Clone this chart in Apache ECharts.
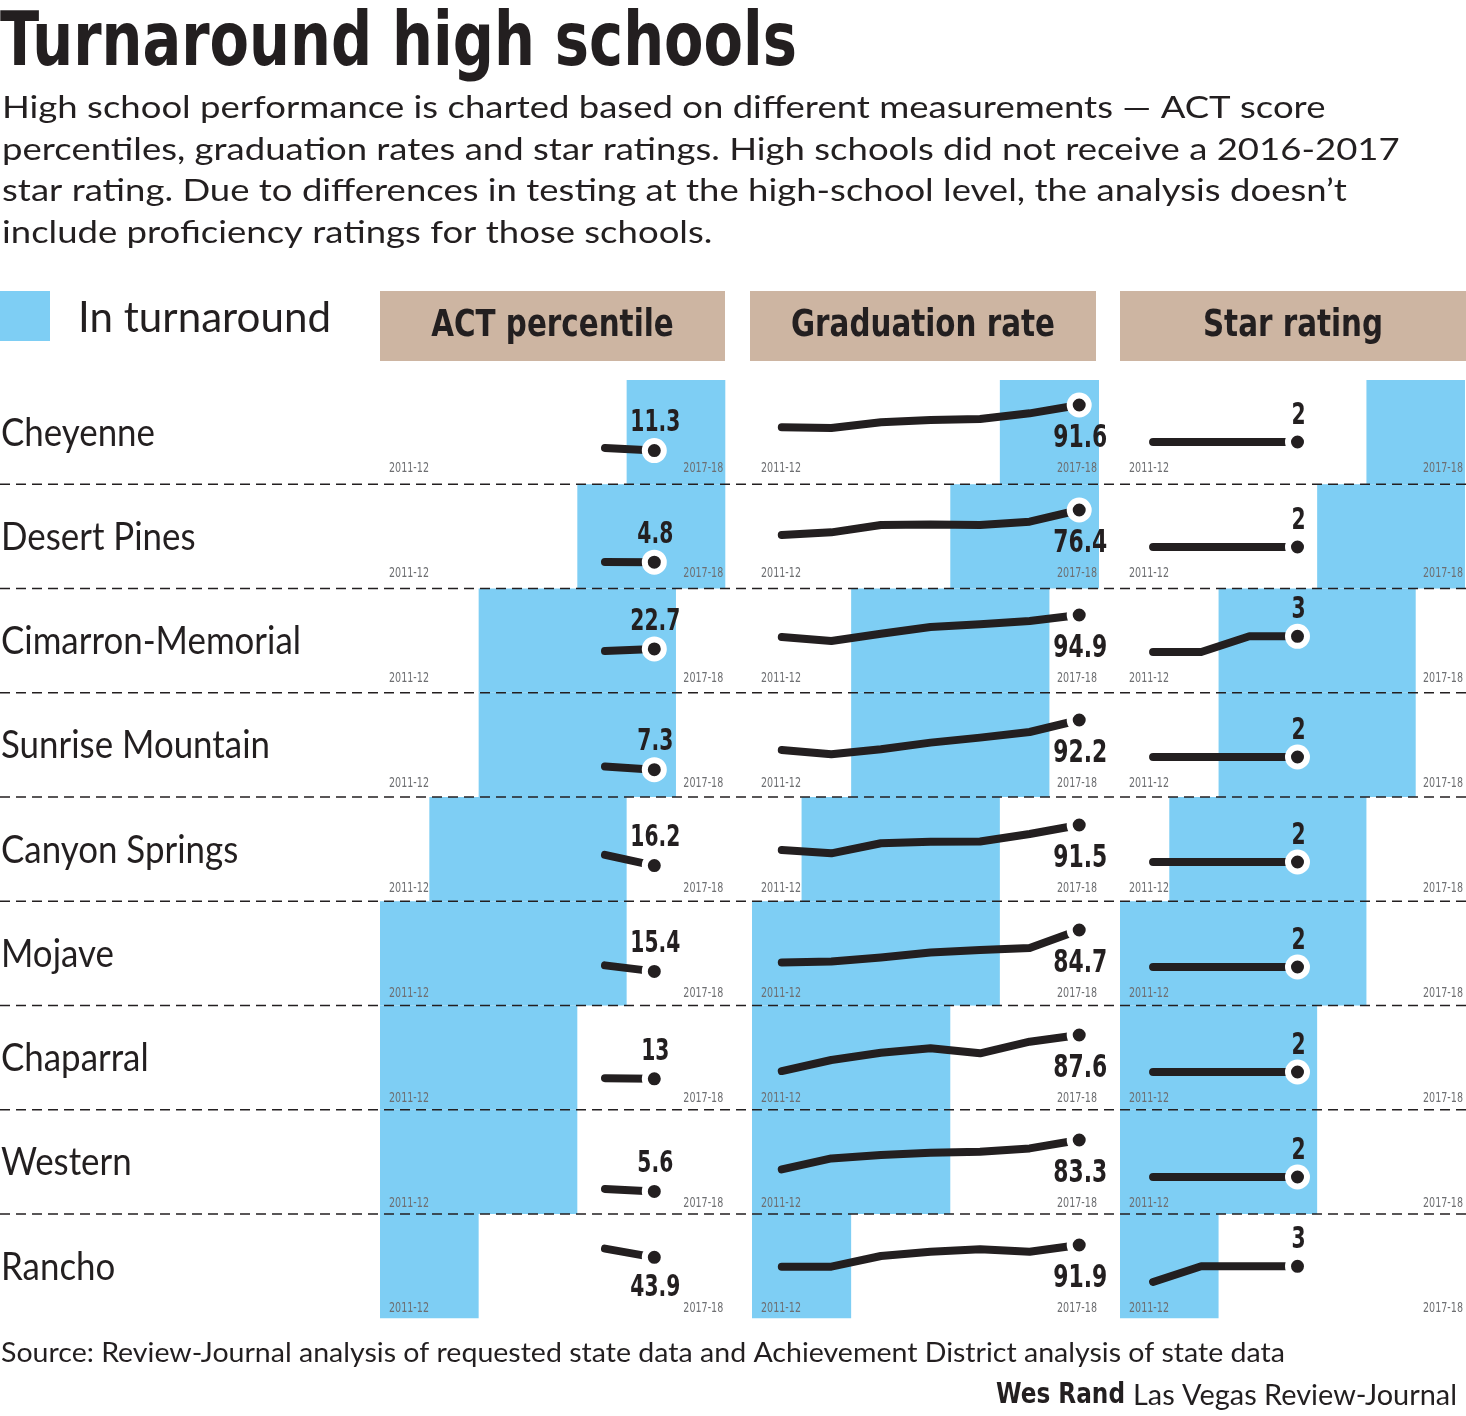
<!DOCTYPE html>
<html>
<head>
<meta charset="utf-8">
<script src="https://cdn.jsdelivr.net/npm/echarts@6/dist/echarts.min.js"></script>
<style>
html,body{margin:0;padding:0;background:#fff;}
#chart{width:1466px;height:1416px;}
</style>
</head>
<body>
<div id="chart"></div>
<script>
// ---------------- DATA ----------------
const schools = ['Cheyenne', 'Desert Pines', 'Cimarron-Memorial', 'Sunrise Mountain',
  'Canyon Springs', 'Mojave', 'Chaparral', 'Western', 'Rancho'];
const years = ['2011-12', '2012-13', '2013-14', '2014-15', '2015-16', '2016-17', '2017-18'];
const columns = ['ACT percentile', 'Graduation rate', 'Star rating'];

// Years each school spent in turnaround (first, last)
const turnaroundFrom = ['2016-17', '2015-16', '2013-14', '2013-14', '2012-13', '2011-12', '2011-12', '2011-12', '2011-12'];
const turnaroundTo   = ['2017-18', '2017-18', '2016-17', '2016-17', '2015-16', '2015-16', '2014-15', '2014-15', '2012-13'];

// ACT percentile (two years shown)
const actYears  = ['2015-16', '2016-17'];
const actPrev   = [13.8, 4.9, 20.7, 10.5, 26.7, 21.3, 13.7, 7.9, 52.4];
const actLatest = [11.3, 4.8, 22.7, 7.3, 16.2, 15.4, 13, 5.6, 43.9];

// Graduation rate, 2011-12 .. 2017-18
const gradCheyenne    = [62.4, 61.5, 69.0, 72.0, 73.3, 80.7, 91.6];
const gradDesertPines = [49.1, 52.0, 60.0, 60.7, 60.0, 63.6, 76.4];
const gradCimarron    = [65.1, 59.6, 69.5, 78.6, 82.2, 86.8, 94.9];
const gradSunrise     = [52.7, 47.0, 53.6, 62.4, 69.0, 76.4, 92.2];
const gradCanyon      = [58.8, 54.5, 67.6, 69.7, 69.9, 79.7, 91.5];
const gradMojave      = [45.5, 46.7, 51.5, 57.6, 60.5, 62.9, 84.7];
const gradChaparral   = [42.5, 56.3, 65.4, 71.0, 64.7, 79.2, 87.6];
const gradWestern     = [48.3, 61.4, 65.5, 68.2, 69.4, 73.3, 83.3];
const gradRancho      = [63.4, 63.4, 77.5, 83.1, 86.3, 83.1, 91.9];
const gradRates = [gradCheyenne, gradDesertPines, gradCimarron, gradSunrise, gradCanyon,
  gradMojave, gradChaparral, gradWestern, gradRancho];

// Star rating, 2011-12 .. 2014-15
const starYears = ['2011-12', '2012-13', '2013-14', '2014-15'];
const starRatings = [
  [2, 2, 2, 2], [2, 2, 2, 2], [2, 2, 3, 3], [2, 2, 2, 2], [2, 2, 2, 2],
  [2, 2, 2, 2], [2, 2, 2, 2], [2, 2, 2, 2], [2, 3, 3, 3]
];

const titleText = 'Turnaround high schools';
const subtitleLines = [
  'High school performance is charted based on different measurements \u2014 ACT score',
  'percentiles, graduation rates and star ratings. High schools did not receive a 2016-2017',
  'star rating. Due to differences in testing at the high-school level, the analysis doesn\u2019t',
  'include proficiency ratings for those schools.'
];
const legendText = 'In turnaround';
const sourceText = 'Source: Review-Journal analysis of requested state data and Achievement District analysis of state data';
const creditName = 'Wes Rand';
const creditOrg = 'Las Vegas Review-Journal';

// ---------------- STYLE / LAYOUT ----------------
const INK = '#231f20', BLUE = '#7ecef4', TAN = '#cdb5a2', GREY = '#6d6e71';
const NARROW = '"Liberation Sans Narrow", "Arial Narrow", "DejaVu Sans Condensed", sans-serif';
const SANS = 'Lato, "Open Sans", sans-serif';
const BAND_TOP = 380, BAND_PITCH = 104.25, CONTENT_PITCH = 105;
const COLS = [
  { left: 380, width: 345.3, shift: 3, top: 0.5, height: 81.6, boxLeft: 380, boxW: 345, labelSize: 30, labelW: 50 },
  { left: 752, width: 347, shift: 5, top: 25, height: 70, boxLeft: 750, boxW: 346, labelSize: 32, labelW: 54 },
  { left: 1120, width: 345, shift: 9, top: 14.9, height: 78.5, boxLeft: 1120, boxW: 346, labelSize: 30, labelW: 50 }
];

const mctx = document.createElement('canvas').getContext('2d');
function measure(text, font) { mctx.font = font; return mctx.measureText(text).width; }
function fontStr(weight, size, family) { return weight + ' ' + size + 'px ' + family; }
function textEl(text, x, y, font, fill, scaleX, align) {
  align = align || 'left';
  return {
    type: 'text', x: x, y: y, scaleX: scaleX || 1, scaleY: 1, z: 20, silent: true,
    style: { text: text, font: font, fill: fill, align: align, verticalAlign: 'middle' }
  };
}

const grids = [], xAxes = [], yAxes = [], series = [], elements = [];
const yearFont = fontStr('normal', 14, NARROW);
const yearScale = 40 / measure('2017-18', yearFont);

schools.forEach((school, i) => {
  const bandTop = BAND_TOP + i * BAND_PITCH;
  const contentTop = BAND_TOP + i * CONTENT_PITCH;

  const lines = [
    actYears.map((y, k) => [y, k === 0 ? actPrev[i] : actLatest[i]]),
    years.map((y, k) => [y, gradRates[i][k]]),
    starYears.map((y, k) => [y, starRatings[i][k]])
  ];

  COLS.forEach((col, c) => {
    // turnaround band (one rect spanning the category bands)
    let g = grids.length;
    grids.push({ left: col.left, top: bandTop, width: col.width, height: BAND_PITCH });
    xAxes.push({ type: 'category', gridIndex: g, data: years, show: false, boundaryGap: true });
    yAxes.push({ type: 'value', gridIndex: g, min: 0, max: 1, show: false });
    series.push({
      type: 'custom', xAxisIndex: g, yAxisIndex: g, silent: true, z: 1,
      encode: { x: [0, 1] },
      data: [[turnaroundFrom[i], turnaroundTo[i]]],
      renderItem: (params, api) => {
        const a = api.coord([api.value(0), 0]);
        const b = api.coord([api.value(1), 1]);
        const bw = api.size([1, 0])[0];
        return { type: 'rect', shape: { x: a[0] - bw / 2, y: b[1], width: b[0] - a[0] + bw, height: a[1] - b[1] },
          style: { fill: BLUE } };
      }
    });

    // sparkline
    const data = lines[c];
    const vals = data.map(d => d[1]);
    g = grids.length;
    grids.push({ left: col.left + col.shift, top: contentTop + col.top, width: col.width, height: col.height });
    xAxes.push({ type: 'category', gridIndex: g, data: years, show: false, boundaryGap: true });
    let yMax;
    if (c === 0) yMax = 80; else if (c === 1) yMax = Math.max.apply(null, vals); else yMax = 5;
    yAxes.push({ type: 'value', gridIndex: g, min: 0, max: yMax, show: false });
    series.push({ type: 'line', xAxisIndex: g, yAxisIndex: g, data: data, symbol: 'none', silent: true,
      lineStyle: { color: INK, width: 8, cap: 'round', join: 'round' }, z: 3 });

    // end point dot + value label
    const last = data[data.length - 1];
    const lblFont = fontStr('bold', col.labelSize, NARROW);
    const lblScale = col.labelW / measure('00.0', lblFont);
    series.push({
      type: 'custom', xAxisIndex: g, yAxisIndex: g, silent: true, z: 5,
      data: [last],
      renderItem: (params, api) => {
        const v = api.value(1);
        const p = api.coord([api.value(0), v]);
        let dy;
        if (c === 0) dy = v > 35 ? 31 : -27;
        else if (c === 1) dy = 34;
        else dy = -26;
        return { type: 'group', children: [
          { type: 'circle', shape: { cx: p[0], cy: p[1], r: 9.5 }, style: { fill: INK, stroke: '#ffffff', lineWidth: 6 } },
          { type: 'text', x: p[0] + 1, y: p[1] + dy, scaleX: lblScale,
            style: { text: String(v), font: lblFont, fill: INK, align: 'center', verticalAlign: 'middle' } }
        ] };
      }
    });

    // year labels
    elements.push(textEl(years[0], col.left + 9, contentTop + 88, yearFont, GREY, yearScale, 'left'));
    elements.push(textEl(years[years.length - 1], col.left + col.width - 2, contentTop + 88, yearFont, GREY, yearScale, 'right'));
  });
});

// dashed separators
for (let k = 1; k < schools.length; k++) {
  const y = BAND_TOP + k * BAND_PITCH;
  elements.push({ type: 'line', silent: true, z: 15,
    shape: { x1: 0, y1: y, x2: 1466, y2: y },
    style: { stroke: INK, lineWidth: 1.6, lineDash: [10, 6] } });
}

// row labels
const rowFont = fontStr('normal', 39, SANS);
const rowScale = 300 / measure('Cimarron-Memorial', rowFont);
schools.forEach((s, i) => {
  elements.push(textEl(s, 1, BAND_TOP + i * BAND_PITCH + 53, rowFont, INK, rowScale, 'left'));
});

// title + subtitle
const titleFont = fontStr('bold', 74, NARROW);
elements.push(textEl(titleText, 0, 46, titleFont, INK, 797 / measure(titleText, titleFont), 'left'));
const subFont = fontStr('normal', 31, SANS);
const subTargets = [1331, 1394, 1341];
let subMeasured = 0, subTarget = 0;
subTargets.forEach((t, k) => { subTarget += t; subMeasured += measure(subtitleLines[k], subFont); });
const subScale = subTarget / subMeasured;
subtitleLines.forEach((line, k) => {
  elements.push(textEl(line, 2, 108 + k * 41.5, subFont, INK, subScale, 'left'));
});

// legend
elements.push({ type: 'rect', silent: true, z: 20, shape: { x: 0, y: 291, width: 50, height: 50 }, style: { fill: BLUE } });
const legFont = fontStr('normal', 43, SANS);
elements.push(textEl(legendText, 78, 318, legFont, INK, 253 / measure(legendText, legFont), 'left'));

// column headers
const headFont = fontStr('bold', 37, NARROW);
const headScale = 264 / measure(columns[1], headFont);
COLS.forEach((col, c) => {
  elements.push({ type: 'rect', silent: true, z: 18, shape: { x: col.boxLeft, y: 291, width: col.boxW, height: 70 }, style: { fill: TAN } });
  elements.push(textEl(columns[c], col.boxLeft + col.boxW / 2, 326, headFont, INK, headScale, 'center'));
});

// footer
const srcFont = fontStr('normal', 27, SANS);
elements.push(textEl(sourceText, 1, 1353, srcFont, INK, 1284 / measure(sourceText, srcFont), 'left'));
const orgFont = fontStr('normal', 28, SANS);
elements.push(textEl(creditOrg, 1457, 1396, orgFont, INK, 324 / measure(creditOrg, orgFont), 'right'));
const nameFont = fontStr('bold', 28, NARROW);
elements.push(textEl(creditName, 996, 1396, nameFont, INK, 129 / measure(creditName, nameFont), 'left'));

const chart = echarts.init(document.getElementById('chart'), null, { renderer: 'canvas' });
chart.setOption({
  animation: false,
  backgroundColor: '#ffffff',
  grid: grids,
  xAxis: xAxes,
  yAxis: yAxes,
  series: series,
  graphic: { elements: elements }
});
</script>
</body>
</html>
